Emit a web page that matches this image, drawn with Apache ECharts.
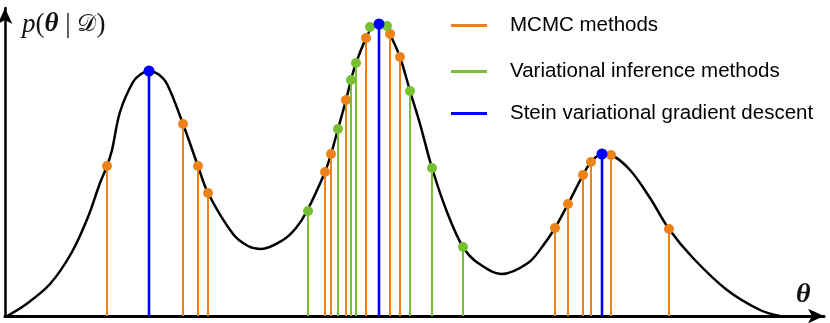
<!DOCTYPE html>
<html>
<head>
<meta charset="utf-8">
<script src="https://cdn.jsdelivr.net/npm/echarts@6/dist/echarts.min.js"></script>
<style>
  html, body { margin: 0; padding: 0; background: #fff; }
  #chart { width: 830px; height: 323px; }
</style>
</head>
<body>
<div id="chart"></div>
<script>
// density curve p(theta | D) as [theta, p]
var curvePoints = [
  [0.02, 0.00], [0.20, 0.11], [0.45, 0.32], [0.67, 0.64], [0.83, 0.99], [0.95, 1.33],
  [1.02, 1.50], [1.07, 1.66], [1.15, 2.04], [1.28, 2.34], [1.36, 2.42], [1.44, 2.45],
  [1.53, 2.42], [1.62, 2.32], [1.78, 1.92], [1.93, 1.50], [2.03, 1.23], [2.28, 0.82],
  [2.43, 0.70], [2.56, 0.67], [2.78, 0.76], [2.91, 0.88], [3.02, 1.05], [3.20, 1.44],
  [3.26, 1.62], [3.33, 1.87], [3.41, 2.16], [3.46, 2.36], [3.51, 2.53], [3.61, 2.78],
  [3.66, 2.87], [3.74, 2.92], [3.82, 2.89], [3.85, 2.82], [3.95, 2.59], [4.05, 2.25],
  [4.15, 1.92], [4.27, 1.48], [4.42, 1.04], [4.58, 0.69], [4.73, 0.53], [4.97, 0.42],
  [5.23, 0.53], [5.37, 0.69], [5.50, 0.88], [5.63, 1.12], [5.78, 1.41], [5.86, 1.54],
  [5.97, 1.62], [6.06, 1.61], [6.25, 1.46], [6.45, 1.18], [6.64, 0.87], [6.88, 0.58],
  [7.22, 0.26], [7.55, 0.06], [7.75, 0.00]
];

// samples of each method (stem + dot)
var mcmcSamples = [
  [1.02, 1.50], [1.78, 1.92], [1.93, 1.50], [2.03, 1.23], [3.20, 1.44], [3.26, 1.62],
  [3.41, 2.16], [3.61, 2.78], [3.85, 2.82], [3.95, 2.59], [5.50, 0.88], [5.63, 1.12],
  [5.78, 1.41], [5.86, 1.54], [6.06, 1.61], [6.64, 0.87]
];
var viSamples = [
  [3.03, 1.05], [3.33, 1.87], [3.46, 2.36], [3.51, 2.53], [4.05, 2.25], [4.27, 1.48], [4.58, 0.69]
];
// VI points near the top that show only a dot
var viDotsOnly = [[3.65, 2.89], [3.82, 2.90]];
var svgdSamples = [[1.44, 2.45], [3.74, 2.92], [5.97, 1.62]];

var methodNames = ['MCMC methods', 'Variational inference methods', 'Stein variational gradient descent'];

var ORANGE = '#ED8318';
var GREEN = '#77BF33';
var BLUE = '#0000FF';

function stemSeries(name, data, color, lw, r, withStem, z) {
  return {
    name: name,
    type: 'custom',
    z: z,
    itemStyle: { color: color },
    data: data,
    renderItem: function (params, api) {
      var top = api.coord([api.value(0), api.value(1)]);
      var bot = api.coord([api.value(0), 0]);
      var kids = [];
      if (withStem) {
        kids.push({ type: 'line', shape: { x1: top[0], y1: top[1], x2: bot[0], y2: bot[1] },
          style: { stroke: color, lineWidth: lw } });
      }
      kids.push({ type: 'circle', shape: { cx: top[0], cy: top[1], r: r }, style: { fill: color } });
      return { type: 'group', children: kids };
    }
  };
}

var chart = echarts.init(document.getElementById('chart'));

var legendTops = [15, 61, 103];
var legendColors = [ORANGE, GREEN, BLUE];

var option = {
  animation: false,
  grid: { left: 5, right: 6, top: 8, bottom: 7 },
  xAxis: {
    type: 'value', min: 0, max: 8.19,
    axisLine: { show: true, symbol: ['none', 'arrow'], symbolSize: [11, 16],
      lineStyle: { color: '#000', width: 3 } },
    axisTick: { show: false }, axisLabel: { show: false }, splitLine: { show: false }
  },
  yAxis: {
    type: 'value', min: 0, max: 3.08,
    axisLine: { show: true, symbol: ['none', 'arrow'], symbolSize: [11, 16],
      lineStyle: { color: '#000', width: 2.5 } },
    axisTick: { show: false }, axisLabel: { show: false }, splitLine: { show: false }
  },
  legend: methodNames.map(function (n, i) {
    return {
      data: [{ name: n, icon: 'rect', itemStyle: { color: legendColors[i] } }],
      left: 451, top: legendTops[i], padding: 0,
      itemWidth: 36, itemHeight: 3, selectedMode: false,
      textStyle: { fontSize: 20.5, fontFamily: 'Liberation Sans', color: '#000', padding: [0, 0, 0, 18] }
    };
  }),
  graphic: [
    {
      type: 'text', left: 22, top: 11,
      style: {
        text: '{i|p}{n|(}{b|θ}{n| | }{c|𝒟}{n|)}',
        rich: {
          i: { fontFamily: 'Liberation Serif', fontStyle: 'italic', fontSize: 27, fill: '#111' },
          n: { fontFamily: 'Liberation Serif', fontSize: 27, fill: '#111' },
          b: { fontFamily: 'Liberation Serif', fontStyle: 'italic', fontWeight: 'bold', fontSize: 27, fill: '#111' },
          c: { fontFamily: 'DejaVu Serif', fontSize: 24, fill: '#111' }
        }
      }
    },
    {
      type: 'text', left: 796, top: 281,
      style: { text: 'θ', font: 'italic bold 28px "Liberation Serif"', fill: '#111' }
    }
  ],
  series: [
    {
      type: 'line', data: curvePoints, smooth: 0.35, symbol: 'none', z: 2,
      lineStyle: { color: '#000', width: 2.5 }
    },
    stemSeries(methodNames[0], mcmcSamples, ORANGE, 2, 5, true, 3),
    stemSeries(methodNames[1], viSamples, GREEN, 2, 5, true, 4),
    stemSeries('vi-top', viDotsOnly, GREEN, 2, 5, false, 4),
    stemSeries(methodNames[2], svgdSamples, BLUE, 2.6, 5.5, true, 5)
  ]
};

chart.setOption(option);
</script>
</body>
</html>
